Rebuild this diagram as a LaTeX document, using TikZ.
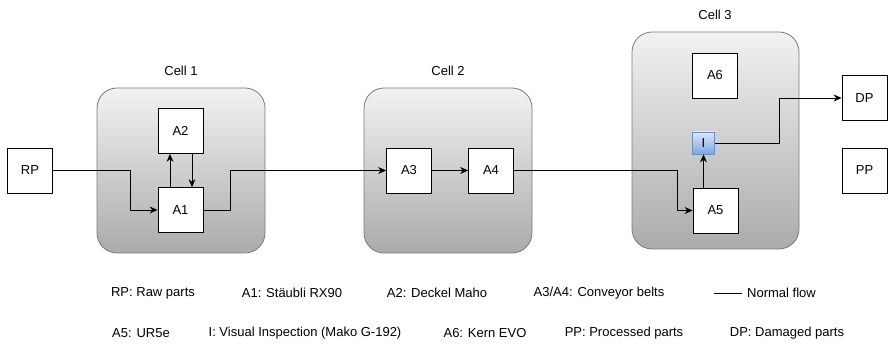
\documentclass[tikz,border=0pt]{standalone}
\usepackage{fontspec}
\setmainfont{Liberation Sans}
\usetikzlibrary{arrows.meta}
\definecolor{celltop}{HTML}{F2F2F2}
\definecolor{cellbot}{HTML}{ABABAB}
\definecolor{cellborder}{HTML}{7A7A7A}
\definecolor{itop}{HTML}{DAE8FC}
\definecolor{ibot}{HTML}{7EA6E0}
\definecolor{iborder}{HTML}{6C8EBF}
\begin{document}
\begin{tikzpicture}[x=1pt,y=-1pt,
  font=\fontsize{13}{15}\selectfont,
  cell/.style={draw=cellborder, line width=0.8pt, rounded corners=20pt, top color=celltop, bottom color=cellbot, inner sep=0pt},
  box/.style={draw=black, fill=white, line width=0.8pt, minimum size=45pt, inner sep=0pt},
  ibox/.style={draw=iborder, top color=itop, bottom color=ibot, line width=0.8pt, minimum size=22pt, inner sep=0pt},
  flow/.style={draw=black, line width=0.9pt, -{Stealth[length=8pt,width=7pt]}},
  plain/.style={draw=black, line width=0.9pt},
  lbl/.style={inner sep=0pt}
]
\useasboundingbox (0,0) rectangle (888,347);
% cells
\node[cell, minimum width=168pt, minimum height=165pt] (c1) at (181,170.5) {};
\node[cell, minimum width=168pt, minimum height=165pt] (c2) at (448,170.5) {};
\node[cell, minimum width=167pt, minimum height=217pt] (c3) at (715.5,140.5) {};
\node[lbl] (c1l) at (181,71) {Cell 1};
\node[lbl] (c2l) at (448,71) {Cell 2};
\node[lbl] (c3l) at (715,15) {Cell 3};
% boxes
\node[box] (RP) at (30,170.5) {RP};
\node[box] (A2) at (180.5,131) {A2};
\node[box] (A1) at (180.5,210) {A1};
\node[box] (A3) at (409,170.5) {A3};
\node[box] (A4) at (491,170.5) {A4};
\node[box] (A6) at (715,75.5) {A6};
\node[ibox] (I) at (703.5,143) {I};
\node[box] (A5) at (715.5,210.5) {A5};
\node[box] (DP) at (864.5,98) {DP};
\node[box] (PP) at (864.5,170.5) {PP};
% connectors
\draw[flow] (RP.east) -- ++(77.5,0) |- (A1.west);
\draw[flow] ([xshift=-10.5pt]A1.north) -- ([xshift=-10.5pt]A2.south);
\draw[flow] ([xshift=11.5pt]A2.south) -- ([xshift=11.5pt]A1.north);
\draw[flow] (A1.east) -- ++(27,0) |- (A3.west);
\draw[flow] (A3.east) -- (A4.west);
\draw[flow] (A4.east) -- ++(163.5,0) |- (A5.west);
\draw[flow] (I |- A5.north) -- (I.south);
\draw[flow] (I.east) -- ++(64.5,0) |- (DP.west);
% legend
\node[lbl] (L1) at (153,293) {RP: Raw parts};
\node[lbl] (L2) at (292,293) {A1: Stäubli RX90};
\node[lbl] (L3) at (437,293) {A2: Deckel Maho};
\node[lbl] (L4) at (599,293) {A3/A4: Conveyor belts};
\coordinate (nfa) at (714,293);
\coordinate (nfb) at (742,293);
\draw[plain] (nfa) -- (nfb);
\node[lbl, anchor=west] (L5) at (747,293) {Normal flow};
\node[lbl] (M1) at (141,333) {A5: UR5e};
\node[lbl] (M2) at (305,333) {I: Visual Inspection (Mako G-192)};
\node[lbl] (M3) at (485,333) {A6: Kern EVO};
\node[lbl] (M4) at (624,333) {PP: Processed parts};
\node[lbl] (M5) at (787,333) {DP: Damaged parts};
\end{tikzpicture}
\end{document}
